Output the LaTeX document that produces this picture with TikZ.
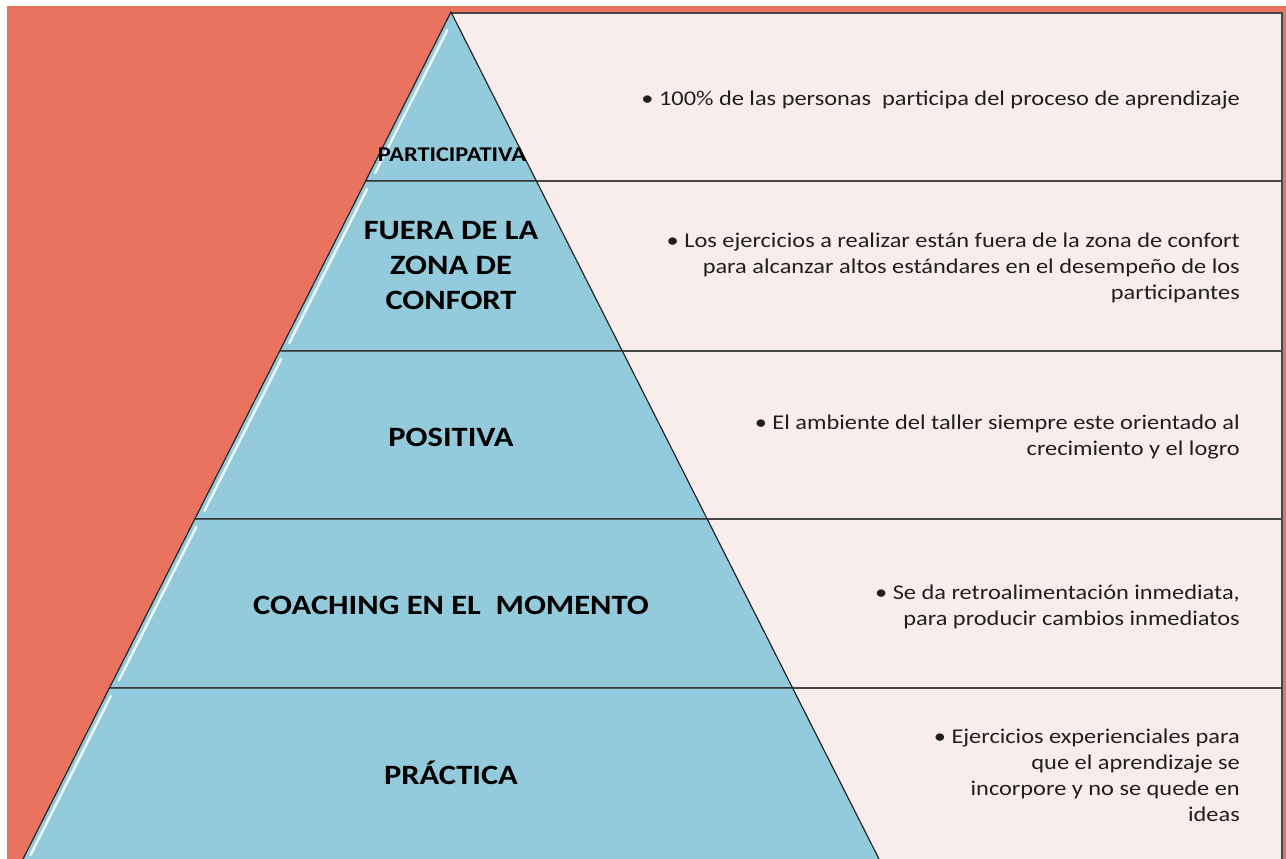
\documentclass[tikz,border=0pt]{standalone}
\usepackage{fontspec}
\setmainfont{Carlito}[FakeStretch=1.16]
\usetikzlibrary{positioning}

\definecolor{bgred}{HTML}{E9735F}
\definecolor{layerblue}{HTML}{93CBDC}
\definecolor{notepink}{HTML}{F9EDEB}

\begin{document}
\begin{tikzpicture}[x=1pt, y=-1pt,
  layer/.style={draw=black!85, line width=1.2pt, fill=layerblue, line join=round},
  note box/.style={draw=black!72, line width=1.5pt, fill=notepink},
  gloss/.style={white, line width=2.4pt, line cap=round, opacity=0.85},
  level label/.style={font=\bfseries\fontsize{28}{35}\selectfont, align=center, inner sep=0pt},
  small label/.style={font=\bfseries\fontsize{21}{26}\selectfont, inner sep=0pt},
  note text/.style={font=\fontsize{21}{26}\selectfont, align=right, anchor=east, inner sep=0pt, text=black!88}
]
  \useasboundingbox (0,0) rectangle (1286,859);
  \fill[bgred] (7,6) rectangle (1286,859);

  % Boxes on the right, behind the pyramid
  \foreach \top/\bot in {13/181, 181/351, 351/519, 519/688, 688/863} {
    \draw[note box] (451,\top) rectangle (1282,\bot);
  }

  % Pyramid layers (half width grows 428/847 per unit of height)
  \foreach \top/\bot/\gtop in {12/181/30, 181/351/189, 351/519/359, 519/688/527, 688/863/696} {
    \pgfmathsetmacro\wt{0.50531*(\top-12)}
    \pgfmathsetmacro\wb{0.50531*(\bot-12)}
    \pgfmathsetmacro\wg{0.50531*(\gtop-12)}
    \pgfmathsetmacro\wh{0.50531*(\bot-20)}
    \draw[layer] ({451-\wt},\top) -- ({451+\wt},\top) -- ({451+\wb},\bot)
      -- ({451-\wb},\bot) -- cycle;
    \draw[gloss] ({456.5-\wg},\gtop) -- ({456.5-\wh},{\bot-8});
  }

  % Labels of the levels
  \node[small label] (participativa) at (452,155) {PARTICIPATIVA};
  \node[level label] (fuera) at (451,266) {FUERA DE LA\\ZONA DE\\CONFORT};
  \node[level label] (positiva) at (451,437) {POSITIVA};
  \node[level label] (coaching) at (451,605) {COACHING EN EL\ \ MOMENTO};
  \node[level label] (practica) at (451,773) {PRÁCTICA};

  % Notes on the right
  \node[note text] (note1) at (1240,100) {• 100\% de las personas\ \ participa del proceso de aprendizaje};
  \node[note text] (note2) at (1240,268) {• Los ejercicios a realizar están fuera de la zona de confort\\para alcanzar altos estándares en el desempeño de los\\participantes};
  \node[note text] (note3) at (1240,437) {• El ambiente del taller siempre este orientado al\\crecimiento y el logro};
  \node[note text] (note4) at (1240,607) {• Se da retroalimentación inmediata,\\para producir cambios inmediatos};
  \node[note text] (note5) at (1240,775) {• Ejercicios experienciales para\\que el aprendizaje se\\incorpore y no se quede en\\ideas};
\end{tikzpicture}
\end{document}
